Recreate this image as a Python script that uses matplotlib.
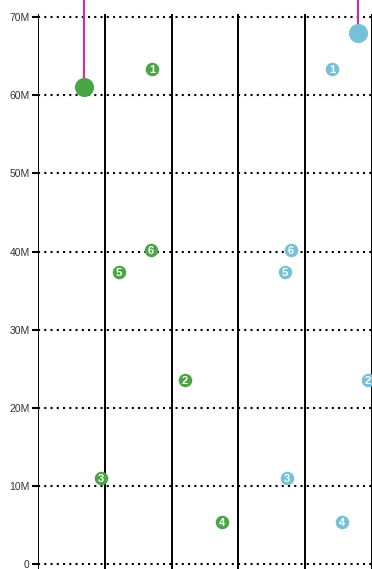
import matplotlib
matplotlib.use("Agg")
import matplotlib.pyplot as plt
from matplotlib.ticker import FuncFormatter

# Numbered points for the two groups (x position, value)
labels = ["1", "2", "3", "4", "5", "6"]
green_x = [1.71, 2.20, 0.94, 2.75, 1.21, 1.69]
blue_x = [4.40, 4.94, 3.73, 4.55, 3.70, 3.79]
values = [63.3e6, 23.5e6, 11.0e6, 5.4e6, 37.4e6, 40.2e6]

# Highlighted points with leader lines
highlight_x = [0.69, 4.79]
highlight_y = [61.0e6, 68.0e6]

green = "#4aa544"
blue = "#74c1d9"
magenta = "#e8179e"
highlight_colors = [green, blue]

y_ticks = [0, 10e6, 20e6, 30e6, 40e6, 50e6, 60e6, 70e6]
x_lines = [0, 1, 2, 3, 4, 5]

plt.rcParams["font.family"] = ["Liberation Sans", "DejaVu Sans"]

fig = plt.figure(figsize=(3.72, 5.69), dpi=100)
ax = fig.add_axes([38 / 372, 0, 1 - 38 / 372, (569 - 14) / 569])
ax.set_xlim(0, 5.0)
ax.set_ylim(-0.64e6, 70.4e6)

for s in ax.spines.values():
    s.set_visible(False)

for xv in x_lines:
    ax.axvline(xv, color="black", lw=1.4, zorder=1)
for yv in y_ticks:
    ax.axhline(yv, color="black", lw=1.5, ls=(0, (1, 2)), zorder=1)

ax.set_yticks(y_ticks)
ax.yaxis.set_major_formatter(FuncFormatter(lambda v, p: "0" if v == 0 else f"{int(v / 1e6)}M"))
ax.tick_params(axis="y", length=4.5, width=1.5, color="black", pad=1.5,
               labelsize=7.5, labelcolor="#333333")
ax.set_xticks([])

def numbered(xs, color):
    ax.scatter(xs, values, s=95, color=color, zorder=3, linewidths=0)
    for xv, yv, lab in zip(xs, values, labels):
        ax.text(xv, yv, lab, color="white", fontsize=8, fontweight="bold",
                ha="center", va="center_baseline", zorder=4)

numbered(green_x, green)
numbered(blue_x, blue)

for xv, yv, c in zip(highlight_x, highlight_y, highlight_colors):
    ax.plot([xv, xv], [yv, 80e6], color=magenta, lw=1.4, zorder=2, clip_on=False)
    ax.scatter([xv], [yv], s=190, color=c, zorder=3, linewidths=0, clip_on=False)

fig.savefig("out.png", dpi=100)
